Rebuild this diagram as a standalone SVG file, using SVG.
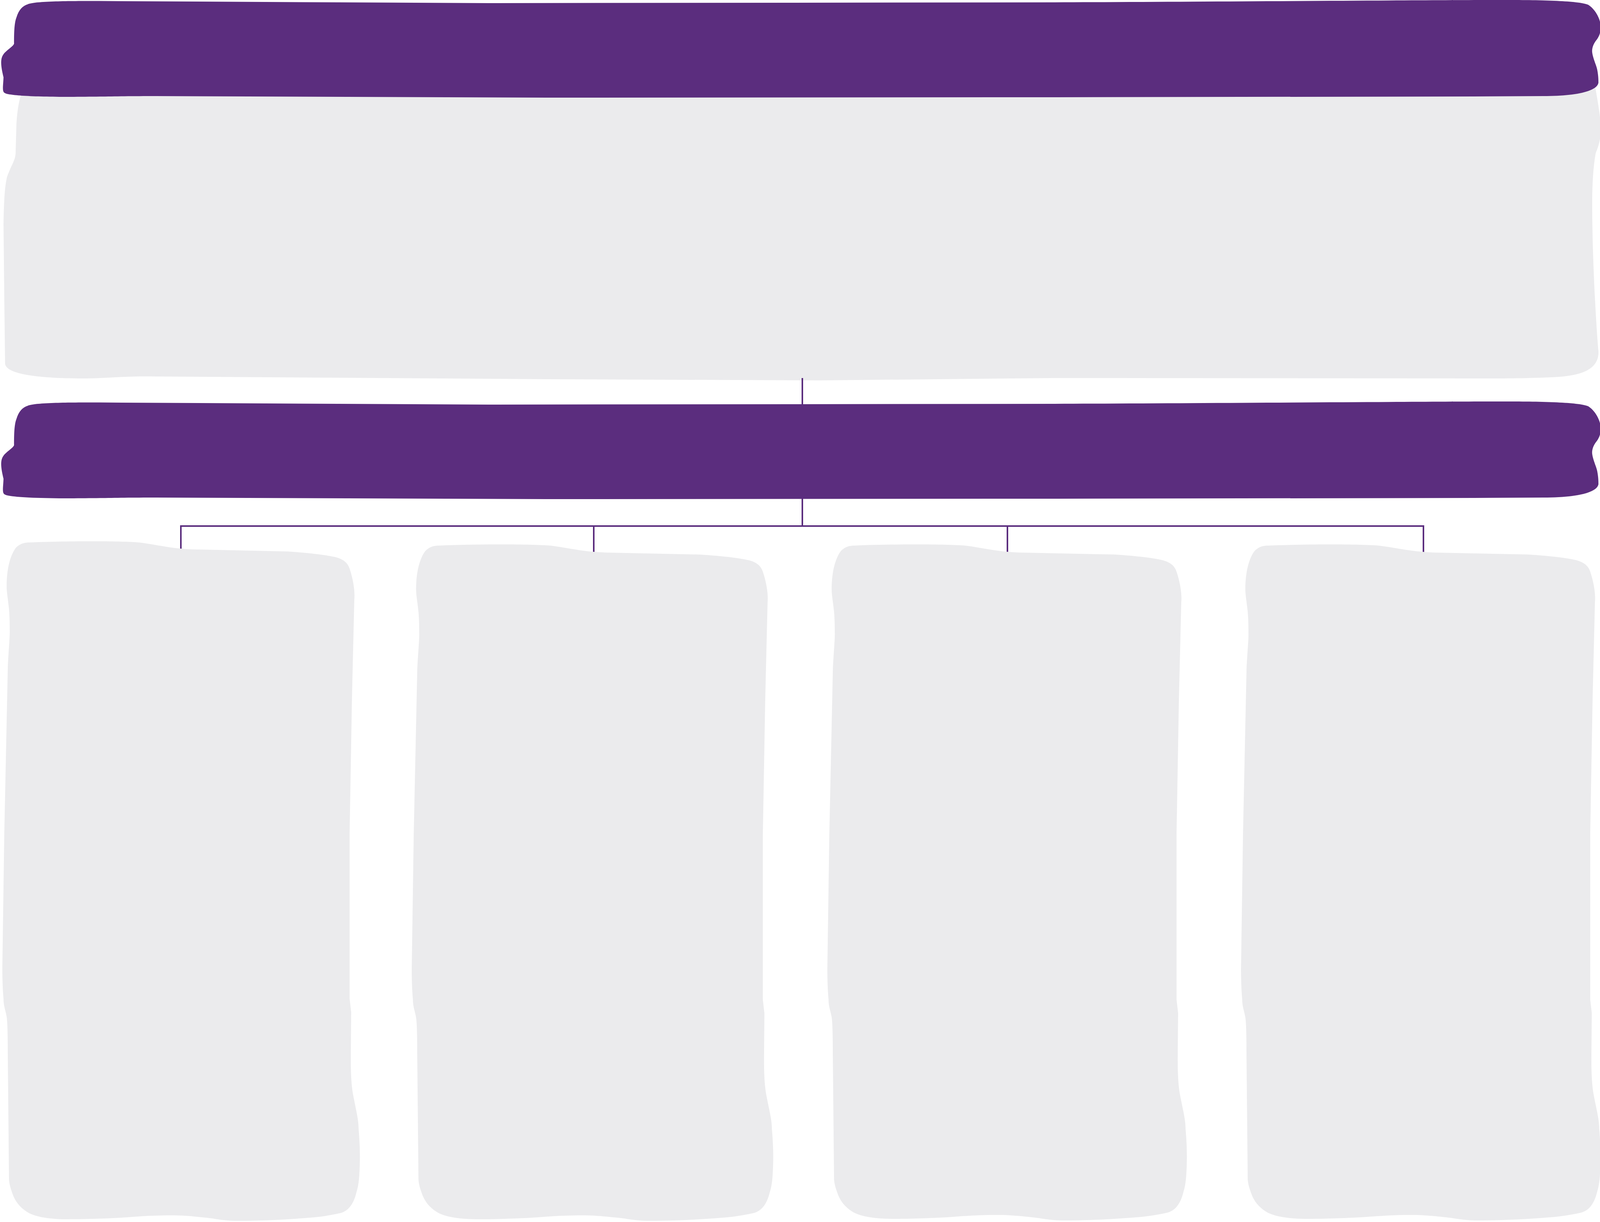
<svg xmlns="http://www.w3.org/2000/svg" xmlns:xlink="http://www.w3.org/1999/xlink" width="4101" height="3129" viewBox="0 0 4101 3129">
  <style>
    .banner { fill: #5B2D7E; }
    .panel { fill: #EBEBED; }
    .conn { fill: none; stroke: #5B2D7E; stroke-width: 4; stroke-linecap: butt; stroke-linejoin: miter; }
  </style>
  <defs>
    <path id="bannerShape" d="M 71,11 C 90,2 200,2 312,3 L 1250,8 L 2700,6 C 3300,3 3700,0 3862,0 C 3960,0 4050,3 4067,13 C 4085,25 4098,50 4098,70 C 4098,85 4092,97 4085,105 C 4078,115 4075,125 4076,134 C 4078,150 4088,170 4089,179 C 4092,195 4092,205 4092,212 C 4088,235 4030,246 3951,246 L 3772,247 L 2700,249 L 1400,250 L 400,246 C 300,246 250,248 179,248 C 80,248 20,244 12,238 C 5,234 8,222 9,198 C 6,185 3,172 3,160 C 3,148 6,142 12,135 C 22,125 34,118 36,112 C 36,90 36,60 42,45 C 48,25 58,15 71,11 Z"/>
    <path id="columnShape" d="M 75,3 C 120,1 180,0 230,0 C 290,0 330,1 356,3 C 400,8 440,20 505,21 L 735,26 C 800,30 840,36 861,41 C 880,47 890,55 895,70 C 905,100 909,130 907,150 L 901,402 L 895,747 L 895,1171 L 899,1206 L 898,1321 C 898,1370 900,1390 903,1412 C 912,1460 918,1480 918,1504 C 921,1540 922,1570 921,1596 C 920,1630 918,1650 913,1665 C 905,1700 890,1715 872,1720 C 840,1727 820,1730 792,1732 C 720,1738 660,1740 608,1740 C 570,1740 550,1734 528,1732 C 490,1728 470,1726 436,1726 C 380,1726 340,1730 310,1732 C 250,1735 210,1736 172,1736 C 120,1736 85,1728 69,1717 C 50,1705 40,1690 34,1676 C 28,1660 23,1645 23,1631 L 20,1321 C 20,1260 19,1230 17,1217 C 14,1200 9,1190 9,1171 C 7,1150 6,1120 6,1091 L 11,747 L 20,322 C 22,280 25,250 25,230 C 25,200 24,185 23,173 C 20,145 17,130 17,115 C 17,90 20,70 23,58 C 30,30 40,15 46,12 C 55,5 65,3 75,3 Z"/>
  </defs>

  <g id="top-panel">
    <path class="panel" d="M 60,200 L 4080,200 C 4090,260 4098,300 4098,330 C 4098,360 4090,380 4085,392 C 4078,430 4076,480 4076,520 C 4076,650 4085,820 4092,899 C 4094,940 4060,960 3990,965 C 3900,970 3800,969 3772,969 L 2700,968 L 2100,974 L 1400,971 L 400,964 C 320,962 260,970 201,969 C 80,968 13,955 13,930 L 11,765 L 9,574 C 10,500 14,470 18,453 C 30,420 40,410 40,390 L 42,320 C 44,280 50,250 58,230 Z"/>
  </g>

  <g id="header-1">
    <use xlink:href="#bannerShape" class="banner"/>
  </g>

  <g id="connectors">
    <path class="conn" d="M 2054,968 L 2054,1036"/>
    <path class="conn" d="M 2054,1276 L 2054,1347"/>
    <path class="conn" d="M 461,1347 L 3646,1347"/>
    <path class="conn" d="M 463,1347 L 463,1420"/>
    <path class="conn" d="M 1520,1347 L 1520,1420"/>
    <path class="conn" d="M 2579,1347 L 2579,1420"/>
    <path class="conn" d="M 3644,1347 L 3644,1420"/>
  </g>

  <g id="header-2">
    <use xlink:href="#bannerShape" class="banner" transform="translate(0,1028)"/>
  </g>

  <g id="column-1">
    <use xlink:href="#columnShape" class="panel" transform="translate(0,1386)"/>
  </g>
  <g id="column-2">
    <use xlink:href="#columnShape" class="panel" transform="translate(1048,1394) scale(1.011,0.9954)"/>
  </g>
  <g id="column-3">
    <use xlink:href="#columnShape" class="panel" transform="translate(2112,1394) scale(1.0055,0.9948)"/>
  </g>
  <g id="column-4">
    <use xlink:href="#columnShape" class="panel" transform="translate(3171,1394) scale(1.0055,0.9948)"/>
  </g>
</svg>
